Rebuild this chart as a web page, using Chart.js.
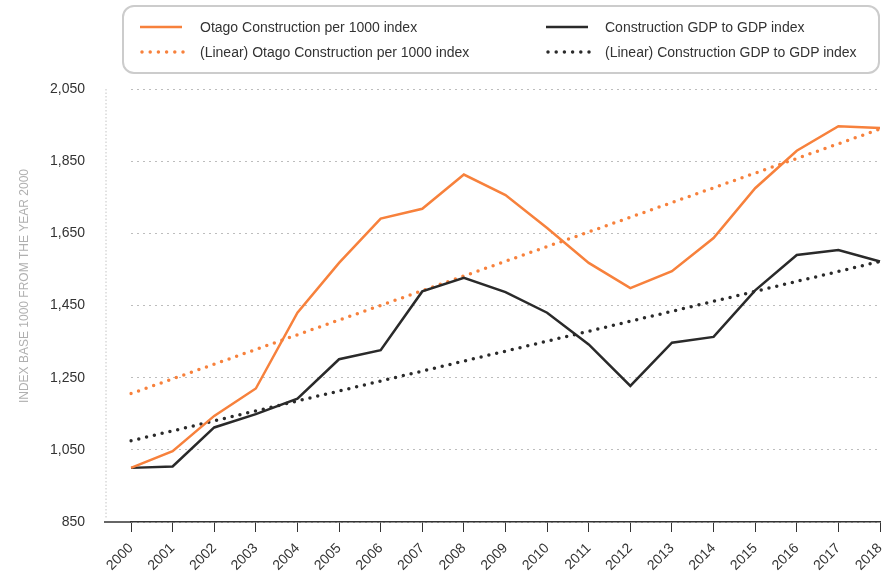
<!DOCTYPE html>
<html>
<head>
<meta charset="utf-8">
<script src="https://cdn.jsdelivr.net/npm/chart.js@4.4.1/dist/chart.umd.min.js"></script>
<style>
  html, body { margin: 0; padding: 0; background: #fff; }
  #wrap { position: relative; width: 882px; height: 577px; }
  #legend {
    position: absolute; left: 122px; top: 5px; width: 754px; height: 65px;
    border: 2px solid #cccccc; border-radius: 12px;
    font-family: Arial, "Liberation Sans", Helvetica, sans-serif; font-size: 14px; color: #333;
  }
  .item { position: absolute; height: 16px; line-height: 16px; white-space: nowrap; }
  .item svg { position: absolute; left: 0; top: 5px; }
  .item span { position: absolute; top: 0; }
</style>
</head>
<body>
<div id="wrap">
  <canvas id="chart" width="882" height="577"></canvas>
  <div id="legend"></div>
</div>
<script>
// years on the x axis
var years = ['2000', '2001', '2002', '2003', '2004', '2005', '2006', '2007', '2008', '2009',
             '2010', '2011', '2012', '2013', '2014', '2015', '2016', '2017', '2018'];

var otago = [1000, 1046, 1144, 1220, 1430, 1568, 1691, 1718, 1813, 1756,
             1665, 1568, 1498, 1545, 1637, 1775, 1879, 1947, 1942];
var gdp = [1000, 1004, 1112, 1149, 1192, 1301, 1326, 1489, 1527, 1487,
           1430, 1342, 1227, 1347, 1363, 1492, 1590, 1604, 1572];

// trend line end points
var otagoTrend = [1206, 1939];
var gdpTrend = [1075, 1572];

var yTicks = [850, 1050, 1250, 1450, 1650, 1850, 2050];
var yTitle = 'INDEX BASE 1000 FROM THE YEAR 2000';

var labels = ['Otago Construction per 1000 index', 'Construction GDP to GDP index',
              '(Linear) Otago Construction per 1000 index', '(Linear) Construction GDP to GDP index'];

var orange = '#f7813c';
var dark = '#2a2a2a';

Chart.defaults.font.family = 'Arial, "Liberation Sans", Helvetica, sans-serif';

function trendPoints(t) {
  return [{x: years[0], y: t[0]}, {x: years[years.length - 1], y: t[1]}];
}

// dotted y-axis line left of the plot, the baseline stub and the axis title
var framePlugin = {
  id: 'frame',
  beforeDatasetsDraw: function(chart) {
    var ctx = chart.ctx, a = chart.chartArea;
    var x0 = a.left - 25;
    ctx.save();
    ctx.strokeStyle = '#c4c4c4';
    ctx.lineWidth = 1;
    ctx.setLineDash([1.5, 2]);
    ctx.beginPath();
    ctx.moveTo(x0, a.top);
    ctx.lineTo(x0, a.bottom - 3);
    ctx.stroke();
    ctx.setLineDash([]);
    ctx.strokeStyle = '#333';
    ctx.lineWidth = 1.5;
    ctx.beginPath();
    ctx.moveTo(x0 - 2, a.bottom);
    ctx.lineTo(a.left, a.bottom);
    ctx.stroke();

    // title sits a little above the middle of the plot
    ctx.translate(25, a.top + (a.bottom - a.top) * 0.455);
    ctx.rotate(-Math.PI / 2);
    ctx.fillStyle = '#b0b0b0';
    ctx.font = '12px Arial, "Liberation Sans", Helvetica, sans-serif';
    ctx.textAlign = 'center';
    ctx.textBaseline = 'middle';
    ctx.fillText(yTitle, 0, 0);
    ctx.restore();
  }
};

var chart = new Chart(document.getElementById('chart').getContext('2d'), {
  type: 'line',
  data: {
    labels: years,
    datasets: [
      { label: labels[0], data: otago, borderColor: orange, borderWidth: 2.5, pointRadius: 0, tension: 0, order: 1 },
      { label: labels[1], data: gdp, borderColor: dark, borderWidth: 2.5, pointRadius: 0, tension: 0, order: 2 },
      { label: labels[2], data: trendPoints(otagoTrend), borderColor: orange, borderWidth: 3.5,
        borderDash: [0, 8], borderCapStyle: 'round', pointRadius: 0, order: 3 },
      { label: labels[3], data: trendPoints(gdpTrend), borderColor: dark, borderWidth: 3.5,
        borderDash: [0, 8], borderCapStyle: 'round', pointRadius: 0, order: 4 }
    ]
  },
  options: {
    responsive: false,
    animation: false,
    layout: { padding: { top: 89, right: 2, bottom: 0, left: 0 } },
    plugins: { legend: { display: false }, tooltip: { enabled: false } },
    scales: {
      x: {
        type: 'category',
        offset: false,
        grid: { drawOnChartArea: false, drawTicks: true, tickLength: 10, color: '#333', lineWidth: 1 },
        border: { display: true, color: '#333', width: 1.5 },
        ticks: { autoSkip: false, minRotation: 45, maxRotation: 45, padding: 8,
                 color: '#333', font: { size: 14 } },
        afterFit: function(scale) {
          scale.height = 55;
          scale.paddingRight = 0;
          scale.paddingLeft = 0;
        }
      },
      y: {
        min: 850,
        max: 2050,
        afterBuildTicks: function(scale) { scale.ticks = yTicks.map(function(v) { return {value: v}; }); },
        grid: { drawTicks: false, color: '#bdbdbd', lineWidth: 1 },
        border: { display: false, dash: [2, 4] },
        ticks: { padding: 46, color: '#333', font: { size: 14 },
                 callback: function(v) { return Number(v).toLocaleString('en-US'); } },
        title: { display: false, text: yTitle },
        afterFit: function(scale) { scale.width = 131; }
      }
    }
  },
  plugins: [framePlugin]
});

// legend in two columns, built from the datasets
var legend = document.getElementById('legend');
var colX = [16, 422];
var rowY = [20, 45];
chart.data.datasets.forEach(function(ds, i) {
  var col = i % 2, row = Math.floor(i / 2);
  var dotted = ds.borderDash && ds.borderDash.length;
  var div = document.createElement('div');
  div.className = 'item';
  div.style.left = colX[col] + 'px';
  div.style.top = (rowY[row] - 8) + 'px';
  var line = dotted
    ? '<line x1="2" y1="3" x2="44" y2="3" stroke="' + ds.borderColor + '" stroke-width="3.5" stroke-linecap="round" stroke-dasharray="0 8.2"/>'
    : '<line x1="0" y1="3" x2="42" y2="3" stroke="' + ds.borderColor + '" stroke-width="2.5"/>';
  div.innerHTML = '<svg width="46" height="6">' + line + '</svg><span style="left:' + (col === 0 ? 60 : 59) + 'px">' + ds.label + '</span>';
  legend.appendChild(div);
});
</script>
</body>
</html>
